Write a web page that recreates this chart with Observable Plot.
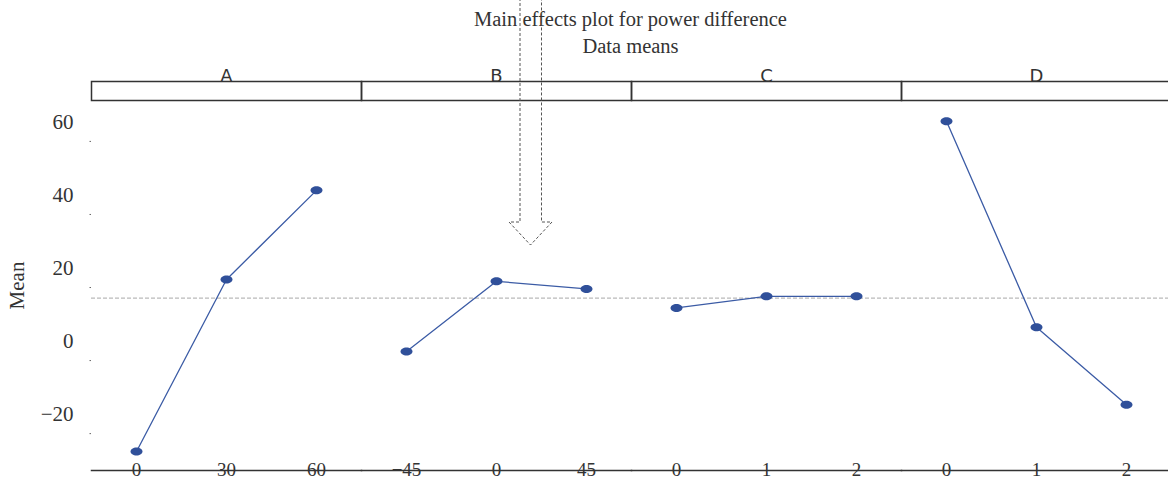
<!DOCTYPE html>
<html>
<head>
<meta charset="utf-8">
<script src="https://cdn.jsdelivr.net/npm/d3@7"></script>
<script src="https://cdn.jsdelivr.net/npm/@observablehq/plot@0.6"></script>
<style>
  html, body { margin: 0; padding: 0; background: #fff; overflow: hidden; width: 1168px; height: 478px; }
  #wrap { position: relative; width: 1171px; height: 478px; }
  #title { position: absolute; left: 90px; top: 0; width: 1081px; text-align: center;
           font-family: "Liberation Serif", serif; font-size: 20.5px; color: #333; line-height: 27px; padding-top: 6px; }
  #header { position: absolute; left: 0; top: 60px; }
  #main { position: absolute; left: 0; top: 100px; }
  #arrow { position: absolute; left: 0; top: 0; pointer-events: none; }
  svg { overflow: visible; }
</style>
</head>
<body>
<div id="wrap">
  <div id="title">Main effects plot for power difference<br>Data means</div>
  <div id="header"></div>
  <div id="main"></div>
  <svg id="arrow" width="1171" height="478"></svg>
</div>
<script>
// ---- data ----
const factors = ["A", "B", "C", "D"];
const levelsA = ["0", "30", "60"];
const levelsB = ["\u221245", "0", "45"];
const levelsC = ["0", "1", "2"];
const levelsD = ["0", "1", "2"];
const meansA = [-30.1, 17.0, 41.4];
const meansB = [-2.7, 16.5, 14.4];
const meansC = [9.2, 12.4, 12.4];
const meansD = [60.3, 3.9, -17.3];
const grandMean = 11.9;
const yTicks = [-20, 0, 20, 40, 60];
const yDomain = [-35.3, 66.0];

const levels = {A: levelsA, B: levelsB, C: levelsC, D: levelsD};
const means = {A: meansA, B: meansB, C: meansC, D: meansD};
const rows = factors.flatMap(f => levels[f].map((lab, i) => ({factor: f, idx: i, label: lab, mean: means[f][i]})));

const W = 1171, ML = 90;
const serif = "Liberation Serif";
const ink = "#333";

// ellipse symbol for the means
const ellipse = {
  draw(ctx, size) {
    const rx = 6, ry = 4, k = 0.5523;
    ctx.moveTo(rx, 0);
    ctx.bezierCurveTo(rx, ry * k, rx * k, ry, 0, ry);
    ctx.bezierCurveTo(-rx * k, ry, -rx, ry * k, -rx, 0);
    ctx.bezierCurveTo(-rx, -ry * k, -rx * k, -ry, 0, -ry);
    ctx.bezierCurveTo(rx * k, -ry, rx, -ry * k, rx, 0);
    ctx.closePath();
  }
};

// ---- header strips ----
const header = Plot.plot({
  width: W, height: 40,
  marginTop: 21, marginBottom: 0, marginLeft: ML, marginRight: 0,
  fx: {domain: factors, padding: 0, axis: null},
  marks: [
    Plot.frame({stroke: ink, strokeWidth: 1.5}),
    Plot.text(factors, {fx: d => d, text: d => d, frameAnchor: "top", lineAnchor: "bottom", dy: 0,
      fontSize: 18, fontFamily: "DejaVu Sans", fill: ink})
  ]
});
document.getElementById("header").appendChild(header);

// ---- main panels ----
const main = Plot.plot({
  width: W, height: 378,
  marginTop: 0, marginBottom: 8, marginLeft: ML, marginRight: 0,
  style: {fontFamily: serif, color: ink, background: "transparent"},
  fx: {domain: factors, padding: 0, axis: null},
  x: {type: "point", domain: [0, 1, 2], padding: 0.5, axis: null},
  y: {domain: yDomain, axis: null},
  marks: [
    Plot.ruleY([grandMean], {stroke: "#a8a8a8", strokeWidth: 1, strokeDasharray: "4,2"}),
    Plot.frame({anchor: "bottom", stroke: ink, strokeWidth: 1.5}),
    Plot.axisY(yTicks, {anchor: "left", tickSize: 0, tickPadding: 18, fontSize: 21, fill: ink,
      tickFormat: d => d < 0 ? "\u2212" + Math.abs(d) : String(d),
      label: "Mean", labelAnchor: "center", labelOffset: 82, labelArrow: "none"}),
    Plot.axisY(yTicks, {anchor: "left", tickSize: 1.5, fill: "none", label: null, dy: 19, stroke: "#666"}),
    Plot.line(rows, {fx: "factor", x: "idx", y: "mean", stroke: "#3b5ba5", strokeWidth: 1.3}),
    Plot.dot(rows, {fx: "factor", x: "idx", y: "mean", symbol: ellipse, fill: "#30509a", stroke: "none", r: 4}),
    Plot.text(rows, {fx: "factor", x: "idx", text: "label", frameAnchor: "bottom", lineAnchor: "middle",
      dy: -1, fontSize: 19, fill: ink, fontFamily: serif})
  ]
});
document.getElementById("main").appendChild(main);

// ---- dashed block-arrow annotation ----
const arrow = d3.select("#arrow");
arrow.append("path")
  .attr("d", "M520,-2V222H509L530.5,245L552,222H541.5V-2")
  .attr("fill", "none").attr("stroke", "#555").attr("stroke-width", 1)
  .attr("stroke-dasharray", "3,2");
</script>
</body>
</html>
